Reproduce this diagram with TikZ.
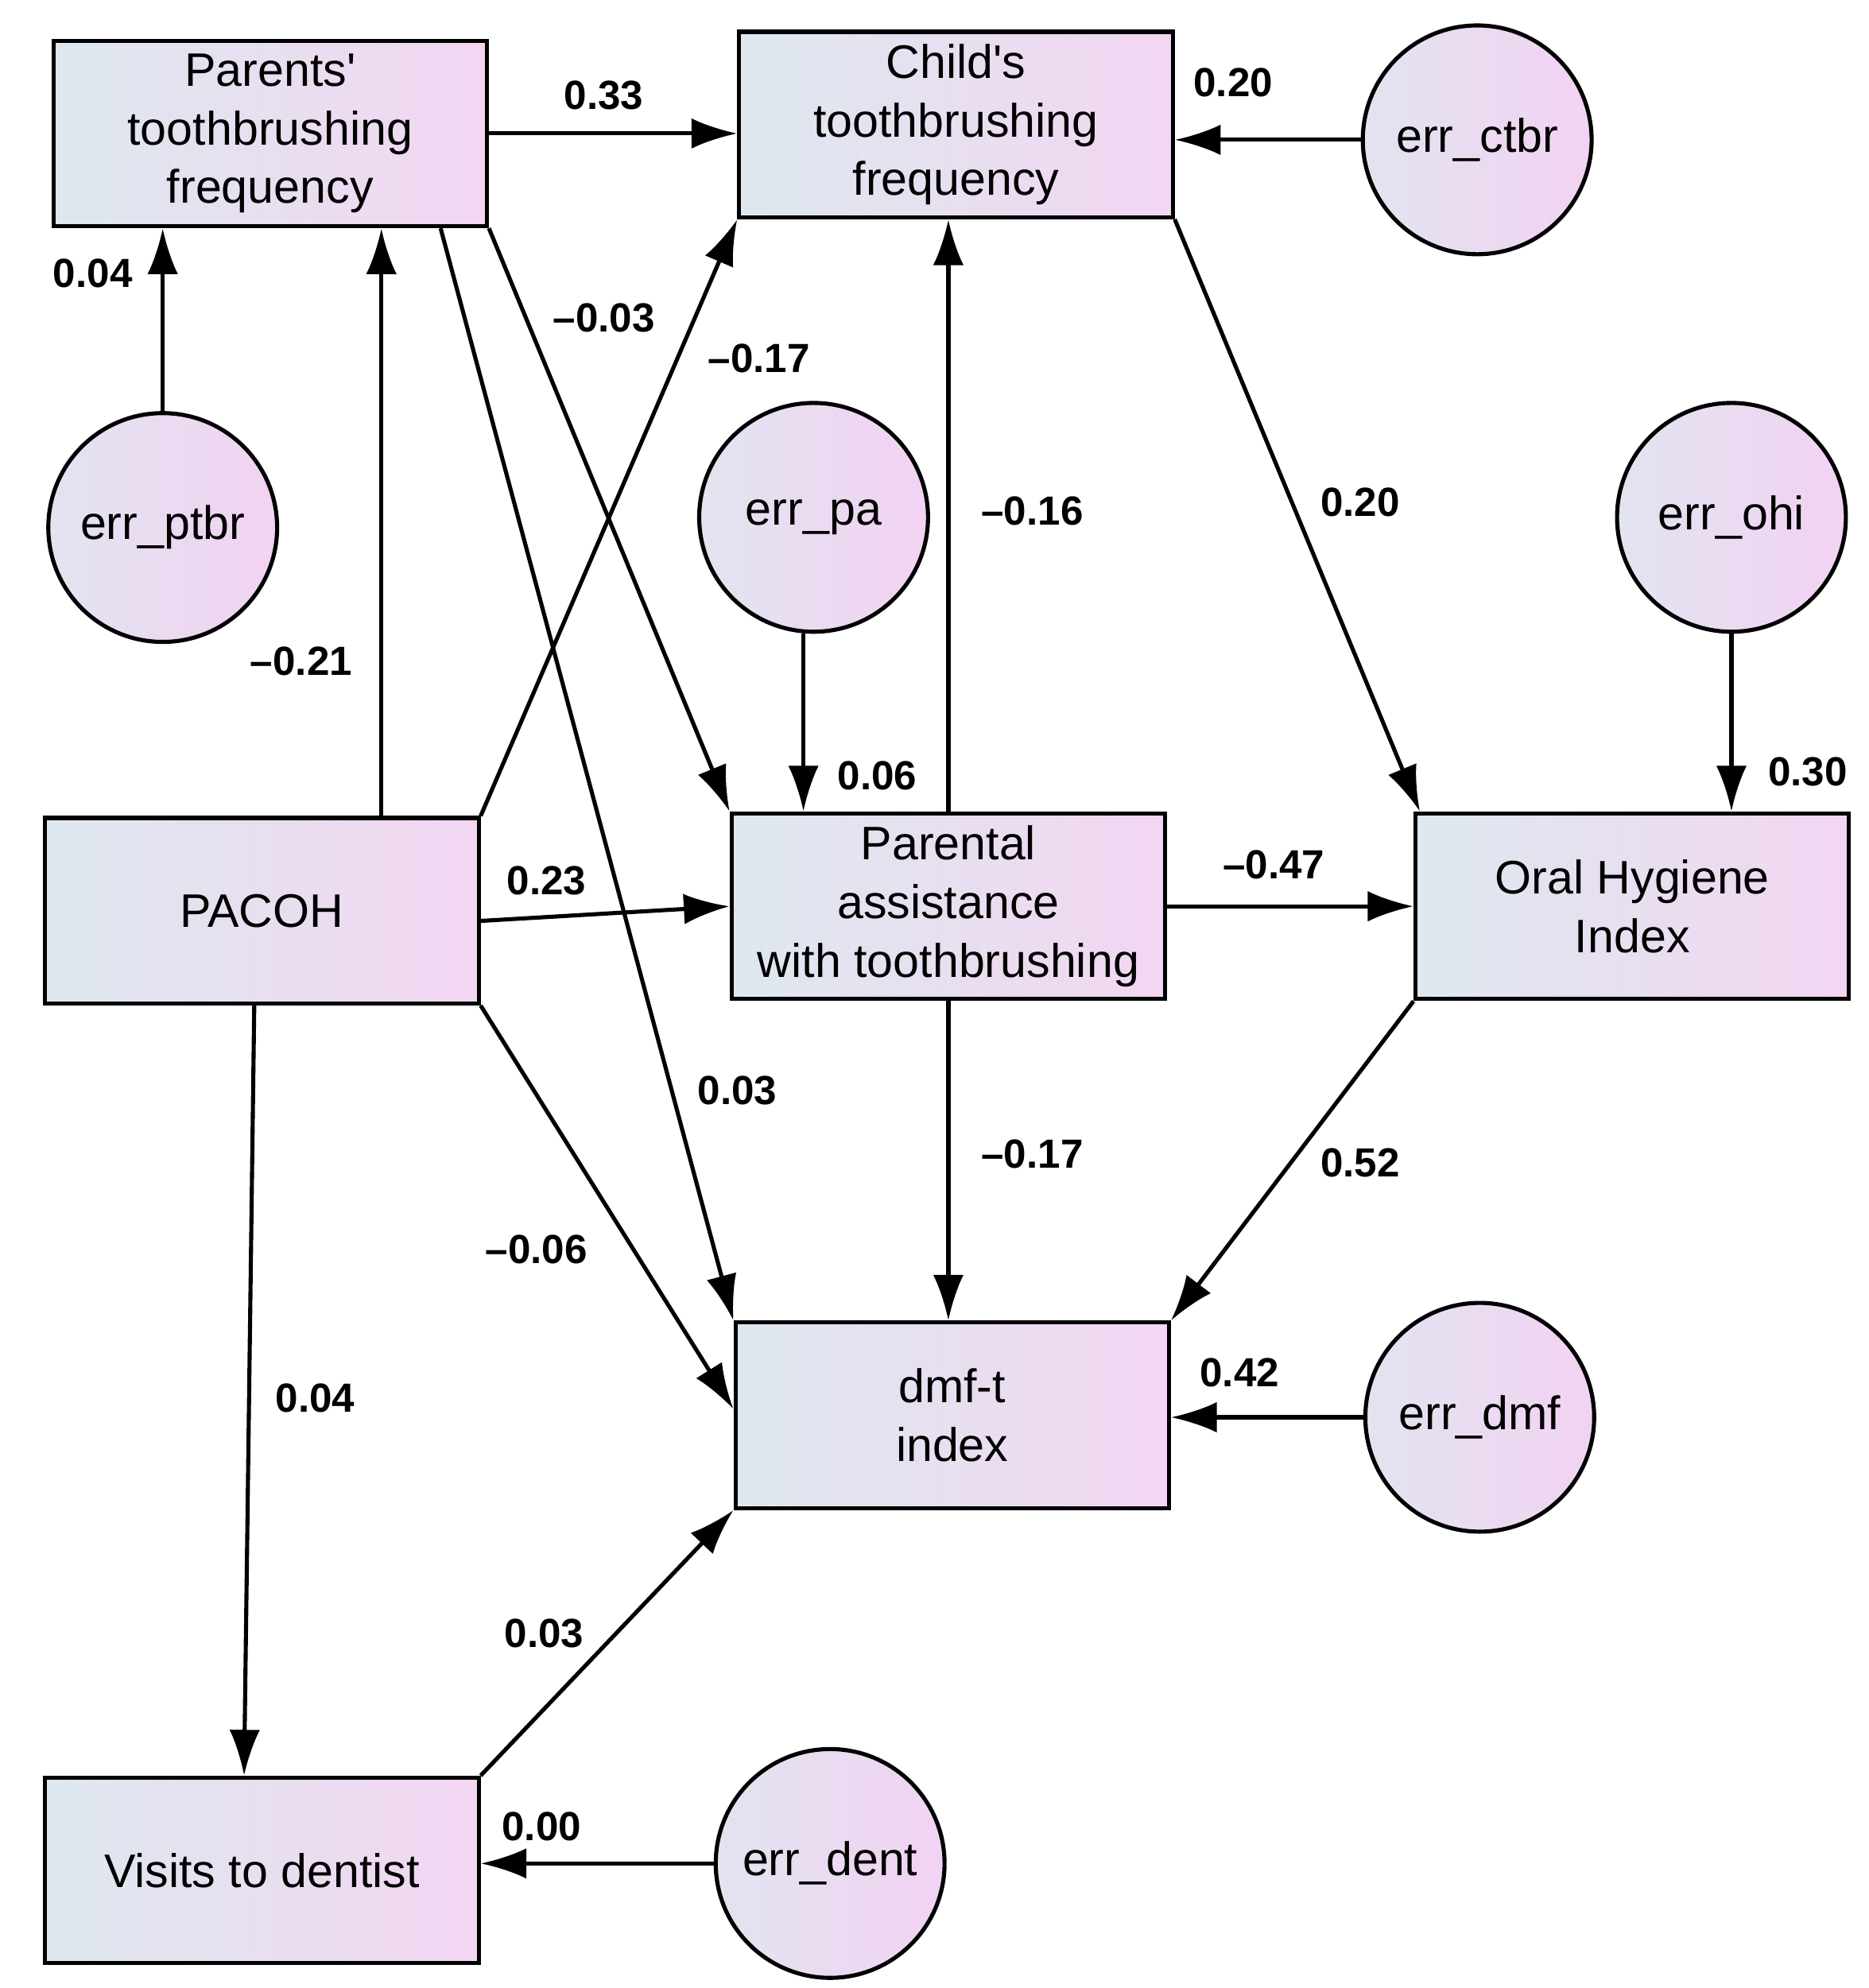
\documentclass[tikz,border=0pt]{standalone}
\usepackage{fontspec}
\setmainfont{Liberation Sans}
\usetikzlibrary{arrows.meta,calc}
\begin{document}
\begin{tikzpicture}[x=1pt,y=-1pt,
  box/.style={draw,line width=3.2pt,minimum width=341pt,minimum height=146pt,inner sep=0pt,
    left color={rgb,255:red,222;green,232;blue,238},right color={rgb,255:red,242;green,214;blue,242},
    align=center,font=\fontsize{37}{46}\selectfont},
  err/.style={draw,circle,line width=3.2pt,minimum size=180pt,inner sep=0pt,
    left color={rgb,255:red,226;green,228;blue,240},right color={rgb,255:red,242;green,210;blue,242},
    font=\fontsize{37}{40}\selectfont},
  arr/.style={line width=3.2pt,-{Latex[length=36pt,width=24pt]}},
  lab/.style={font=\fontsize{32}{34}\selectfont\bfseries}]
\useasboundingbox (0,0) rectangle (1470,1564);
\node[box] (par) at (212.5,105) {Parents\textquotesingle\\toothbrushing\\frequency};
\node[box] (chi) at (752,98) {Child\textquotesingle s\\toothbrushing\\frequency};
\node[box] (pac) at (206,716.5) {PACOH};
\node[box] (pa) at (746,713) {Parental\\assistance\\with toothbrushing};
\node[box] (ohi) at (1284,713) {Oral Hygiene\\Index};
\node[box] (dmf) at (749,1113.5) {dmf-t\\index};
\node[box] (vis) at (206,1471.5) {Visits to dentist};
\node[err] (eptbr) at (128,415) {err\_ptbr};
\node[err] (ectbr) at (1162,110) {err\_ctbr};
\node[err] (epa) at (640,407) {err\_pa};
\node[err] (eohi) at (1362,407) {err\_ohi};
\node[err] (edmf) at (1164,1115) {err\_dmf};
\node[err] (edent) at (653,1466) {err\_dent};
% connectors
\draw[arr] (par.east) -- (par.east -| chi.west);
\draw[arr] (ectbr.west) -- (ectbr.west -| chi.east);
\draw[arr] (eptbr.north) -- (eptbr.north |- par.south);
\coordinate (p1) at ($(pac.north)+(94,0)$);
\draw[arr] (p1) -- (p1 |- par.south);
\draw[arr] (pac.north east) -- (chi.south west);
\draw[arr] (par.south east) -- (pa.north west);
\draw[arr] ($(par.south east)+(-38,0)$) -- (dmf.north west);
\coordinate (p2) at ($(epa.south)+(-8,0)$);
\draw[arr] (p2) -- (p2 |- pa.north);
\draw[arr] (pa.north) -- (pa.north |- chi.south);
\draw[arr] (chi.south east) -- ($(ohi.north west)+(5,0)$);
\draw[arr] (eohi.south) -- (eohi.south |- ohi.north);
\draw[arr] ($(pac.east)+(0,8)$) -- (pa.west);
\draw[arr] (pa.east) -- (pa.east -| ohi.west);
\draw[arr] (pa.south) -- (pa.south |- dmf.north);
\draw[arr] (ohi.south west) -- (dmf.north east);
\draw[arr] (pac.south east) -- ($(dmf.west)+(0,-5)$);
\draw[arr] ($(pac.south)+(-6,0)$) -- ($(vis.north)+(-14,0)$);
\draw[arr] (vis.north east) -- (dmf.south west);
\draw[arr] (edmf.west) -- (edmf.west -| dmf.east);
\draw[arr] (edent.west) -- (edent.west -| vis.east);
% labels
\node[lab] (l1) at (475,75) {0.33};
\node[lab] (l2) at (970,65) {0.20};
\node[lab] (l3) at (73,215) {0.04};
\node[lab] (l4) at (237,520) {\textendash0.21};
\node[lab] (l5) at (597,282) {\textendash0.17};
\node[lab] (l6) at (475,250) {\textendash0.03};
\node[lab] (l7) at (580,858) {0.03};
\node[lab] (l8) at (690,610) {0.06};
\node[lab] (l9) at (812,402) {\textendash0.16};
\node[lab] (l10) at (1070,395) {0.20};
\node[lab] (l11) at (1422,607) {0.30};
\node[lab] (l12) at (430,693) {0.23};
\node[lab] (l13) at (1002,680) {\textendash0.47};
\node[lab] (l14) at (812,908) {\textendash0.17};
\node[lab] (l15) at (1070,915) {0.52};
\node[lab] (l16) at (422,983) {\textendash0.06};
\node[lab] (l17) at (248,1100) {0.04};
\node[lab] (l18) at (428,1285) {0.03};
\node[lab] (l19) at (975,1080) {0.42};
\node[lab] (l20) at (426,1437) {0.00};
\end{tikzpicture}
\end{document}
